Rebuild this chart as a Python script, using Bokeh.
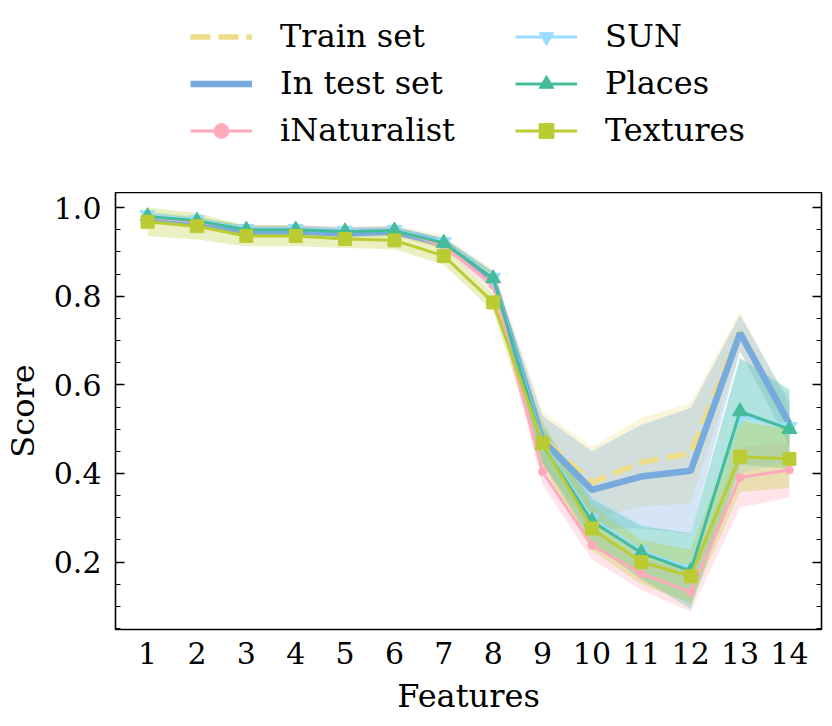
import numpy as np
from bokeh.plotting import figure
from bokeh.layouts import column
from bokeh.models import (Range1d, FixedTicker, SingleIntervalTicker, LinearAxis,
                          Legend, LegendItem, NumeralTickFormatter, CustomJSTickFormatter)
from bokeh.embed import file_html
from bokeh.resources import INLINE

# ---------------- data ----------------
features = [1, 2, 3, 4, 5, 6, 7, 8, 9, 10, 11, 12, 13, 14]
x_tick_labels = [str(f) for f in features]

train_mean = [0.975, 0.965, 0.948, 0.948, 0.944, 0.948, 0.922, 0.840, 0.480, 0.380, 0.425, 0.446, 0.720, 0.510]
train_std = [0.012, 0.012, 0.012, 0.012, 0.012, 0.012, 0.015, 0.020, 0.060, 0.080, 0.100, 0.113, 0.046, 0.040]

test_mean = [0.975, 0.964, 0.946, 0.946, 0.942, 0.946, 0.920, 0.836, 0.475, 0.363, 0.393, 0.406, 0.717, 0.512]
test_std = [0.010, 0.010, 0.010, 0.010, 0.010, 0.010, 0.012, 0.018, 0.055, 0.087, 0.117, 0.142, 0.040, 0.050]

inat_mean = [0.978, 0.968, 0.952, 0.952, 0.948, 0.950, 0.915, 0.825, 0.404, 0.238, 0.174, 0.133, 0.391, 0.408]
inat_std = [0.008, 0.008, 0.008, 0.008, 0.008, 0.008, 0.010, 0.015, 0.030, 0.032, 0.037, 0.045, 0.068, 0.062]

sun_mean = [0.983, 0.972, 0.952, 0.952, 0.948, 0.950, 0.922, 0.842, 0.470, 0.299, 0.225, 0.185, 0.530, 0.505]
sun_std = [0.008, 0.008, 0.008, 0.008, 0.008, 0.008, 0.010, 0.015, 0.040, 0.050, 0.060, 0.080, 0.130, 0.080]

places_mean = [0.980, 0.970, 0.950, 0.950, 0.946, 0.948, 0.920, 0.840, 0.465, 0.292, 0.221, 0.180, 0.540, 0.500]
places_std = [0.008, 0.008, 0.008, 0.008, 0.008, 0.008, 0.010, 0.015, 0.040, 0.050, 0.060, 0.085, 0.120, 0.090]

textures_mean = [0.968, 0.958, 0.936, 0.936, 0.929, 0.926, 0.891, 0.786, 0.468, 0.276, 0.200, 0.168, 0.438, 0.433]
textures_std = [0.032, 0.030, 0.023, 0.023, 0.020, 0.020, 0.020, 0.020, 0.050, 0.050, 0.050, 0.060, 0.080, 0.066]

series_names = ["Train set", "In test set", "iNaturalist", "SUN", "Places", "Textures"]
series_colors = ["#EEDD88", "#77AADD", "#FFAABB", "#99DDFF", "#44BB99", "#BBCC33"]
series_means = [train_mean, test_mean, inat_mean, sun_mean, places_mean, textures_mean]
series_stds = [train_std, test_std, inat_std, sun_std, places_std, textures_std]

FONT = "DejaVu Serif"

# styles per series: (line width, dash, marker, marker size)
styles = [
    (5.5, "20 8", None, 0),
    (6.5, "solid", None, 0),
    (3, "solid", "circle", 8),
    (3, "solid", "inverted_triangle", 15),
    (3, "solid", "triangle", 15),
    (3, "solid", "square", 13),
]

# ---------------- main figure ----------------
p = figure(width=832, height=534, output_backend="svg", toolbar_location=None,
           x_range=Range1d(0.35, 14.65), y_range=Range1d(0.048, 1.034),
           min_border_left=115, min_border_right=11, min_border_top=0, min_border_bottom=97)
p.background_fill_color = "white"
p.border_fill_color = "white"
p.outline_line_color = "black"
p.outline_line_width = 1.6
p.outline_line_alpha = 1.0
p.xgrid.visible = False
p.ygrid.visible = False

for m, s, c in zip(series_means, series_stds, series_colors):
    m = np.array(m); s = np.array(s)
    p.varea(x=features, y1=m - s, y2=m + s, fill_color=c, fill_alpha=0.3)

for m, c, (lw, dash, mk, ms) in zip(series_means, series_colors, styles):
    p.line(features, m, line_color=c, line_width=lw, line_dash=dash)
    if mk:
        p.scatter(features, m, marker=mk, size=ms, color=c)

xa = p.xaxis[0]
xa.ticker = FixedTicker(ticks=features)
xa.major_label_overrides = {f: lbl for f, lbl in zip(features, x_tick_labels)}
xa.major_tick_in = 0
xa.major_tick_out = 0
xa.minor_tick_in = 0
xa.minor_tick_out = 0
xa.axis_line_color = None
xa.major_label_text_font = FONT
xa.major_label_text_font_size = "30px"
xa.major_label_text_color = "black"
xa.major_label_standoff = 12
xa.axis_label = "Features"
xa.axis_label_text_font = FONT
xa.axis_label_text_font_size = "32px"
xa.axis_label_text_font_style = "normal"
xa.axis_label_text_color = "black"
xa.axis_label_standoff = 10

ya = p.yaxis[0]
ya.ticker = SingleIntervalTicker(interval=0.2, num_minor_ticks=4)
ya.formatter = NumeralTickFormatter(format="0.0")
ya.major_tick_in = 9
ya.major_tick_out = 0
ya.minor_tick_in = 5
ya.minor_tick_out = 0
ya.major_tick_line_width = 1.5
ya.minor_tick_line_width = 1.2
ya.axis_line_color = None
ya.major_label_text_font = FONT
ya.major_label_text_font_size = "30px"
ya.major_label_text_color = "black"
ya.major_label_standoff = 14
ya.axis_label = "Score"
ya.axis_label_text_font = FONT
ya.axis_label_text_font_size = "32px"
ya.axis_label_text_font_style = "normal"
ya.axis_label_text_color = "black"
ya.axis_label_standoff = 9

ra = LinearAxis(ticker=SingleIntervalTicker(interval=0.2, num_minor_ticks=4),
                formatter=CustomJSTickFormatter(code="return ''"))
ra.major_tick_in = 9
ra.major_tick_out = 0
ra.minor_tick_in = 5
ra.minor_tick_out = 0
ra.major_tick_line_width = 1.5
ra.minor_tick_line_width = 1.2
ra.axis_line_color = None
ra.major_label_standoff = 0
p.add_layout(ra, "right")

# ---------------- legend figure (above; frame is aligned with main frame) ----------------
pl = figure(width=832, height=192, output_backend="svg", toolbar_location=None,
            x_range=Range1d(0.35, 14.65), y_range=Range1d(0.048, 1.034),
            x_axis_type=None, y_axis_type=None,
            min_border_left=115, min_border_right=11, min_border_top=0, min_border_bottom=0)
pl.outline_line_color = None
pl.xgrid.visible = False
pl.ygrid.visible = False

items = []
for name, m, c, (lw, dash, mk, ms) in zip(series_names, series_means, series_colors, styles):
    # hidden proxies: only used to draw the legend glyphs
    rs = [pl.line(features, m, line_color=c, line_width=lw, line_dash=dash, visible=False)]
    if mk:
        rs.append(pl.scatter(features, m, marker=mk, size=ms, color=c, visible=False))
    items.append(LegendItem(label=name, renderers=rs))

def make_legend(its, vx):
    return Legend(items=its, location=(vx, 43), orientation="vertical",
                  glyph_width=62, glyph_height=37, label_height=37, spacing=9,
                  label_standoff=28, padding=0, margin=0,
                  border_line_color=None, background_fill_alpha=0.0,
                  inactive_fill_alpha=0.0,
                  label_text_font=FONT, label_text_font_size="32px", label_text_color="black")

pl.add_layout(make_legend(items[:3], 75), "center")
pl.add_layout(make_legend(items[3:], 400), "center")

layout = column(pl, p, spacing=0)
open("out.html", "w").write(file_html(layout, INLINE))
